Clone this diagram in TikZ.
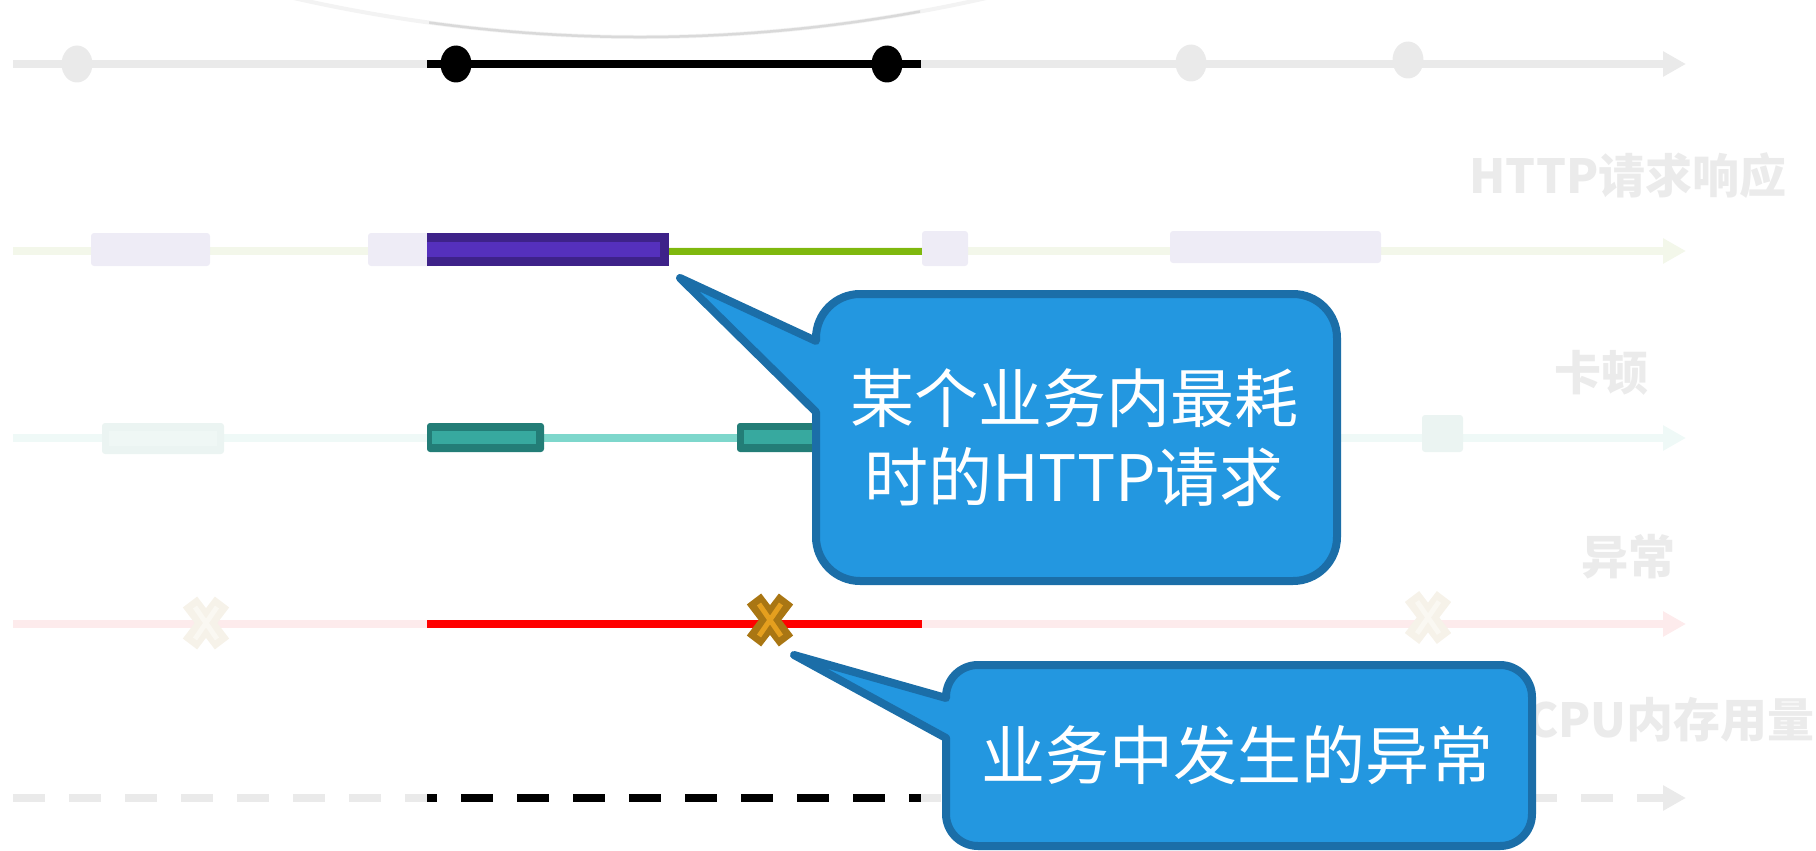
\documentclass[tikz,border=0pt]{standalone}
\usepackage{fontspec}
\setmainfont{Noto Sans CJK SC}
\usetikzlibrary{arrows.meta}
\definecolor{cGray}{HTML}{EAEAEA}
\definecolor{cArc}{HTML}{D9D9D9}
\definecolor{cArcFaint}{HTML}{F3F3F3}
\definecolor{cGreenLt}{HTML}{F3F7EA}
\definecolor{cLav}{HTML}{EEECF6}
\definecolor{cPurD}{HTML}{3E2289}
\definecolor{cPurL}{HTML}{5530BC}
\definecolor{cGreen}{HTML}{7FB80E}
\definecolor{cTealLt}{HTML}{EFF9F7}
\definecolor{cTealFade}{HTML}{EBF4F2}
\definecolor{cTealFade2}{HTML}{EFF7F5}
\definecolor{cTealD}{HTML}{237D77}
\definecolor{cTealM}{HTML}{37A99F}
\definecolor{cTealLine}{HTML}{7ED7CC}
\definecolor{cPink}{HTML}{FDEBEC}
\definecolor{cRed}{HTML}{FF0000}
\definecolor{cXo}{HTML}{A97613}
\definecolor{cXi}{HTML}{E59F1E}
\definecolor{cXfo}{HTML}{F6F2E9}
\definecolor{cXfi}{HTML}{FAF8F2}
\definecolor{cLabel}{HTML}{EBEBEB}
\definecolor{cCallFill}{HTML}{2397E0}
\definecolor{cCallDraw}{HTML}{1B6EA8}
\newcommand\XMark[4]{%
  \draw[line width=18pt,#3] (#1-16,#2-21) -- (#1+16,#2+21);
  \draw[line width=18pt,#3] (#1+16,#2-21) -- (#1-16,#2+21);
  \draw[line width=5pt,#4] (#1-11,#2-16) -- (#1+11,#2+16);
  \draw[line width=5pt,#4] (#1+11,#2-16) -- (#1-11,#2+16);
}
\begin{document}
\begin{tikzpicture}[x=1pt,y=-1pt,
  track/.style={line width=8pt,-{Triangle[length=23pt,width=24pt]}},
  seg/.style={line width=8pt},
  lbl/.style={font=\bfseries\fontsize{47}{47}\selectfont,text=cLabel,inner sep=0pt},
  callout/.style={fill=cCallFill,draw=cCallDraw,line width=8pt,line join=round},
  ctext/.style={font=\fontsize{64}{79}\selectfont,text=white,align=center,inner sep=0pt}]
\useasboundingbox (0,0) rectangle (1816,851);
\clip (0,0) rectangle (1816,851);
% faint arc at the top
\draw[cArcFaint,line width=4pt] (290,-2.8) .. controls (540,54.1) and (790,50) .. (1040,-15);
\begin{scope}
  \clip (429,-20) rectangle (920,60);
  \draw[cArc,line width=2.5pt] (290,-2.8) .. controls (540,54.1) and (790,50) .. (1040,-15);
\end{scope}
% row 1
\coordinate (r1s) at (13,64); \coordinate (r1e) at (1686,64);
\draw[track,cGray] (r1s) -- (r1e);
\draw[seg,black] (427,64) -- (921,64);
\fill[cGray] (77,64) ellipse [x radius=15.5,y radius=18.5];
\fill[cGray] (1191,63) ellipse [x radius=15.5,y radius=18.5];
\fill[cGray] (1408,60) ellipse [x radius=15.5,y radius=18.5];
\fill[black] (456,64) ellipse [x radius=15.5,y radius=18.5];
\fill[black] (887,64) ellipse [x radius=15.5,y radius=18.5];
% row 2
\coordinate (r2s) at (13,251); \coordinate (r2e) at (1686,251);
\draw[track,cGreenLt] (r2s) -- (r2e);
\fill[cLav,rounded corners=3pt] (91,233) rectangle (210,266);
\fill[cLav,rounded corners=3pt] (368,233) rectangle (440,266);
\fill[cLav,rounded corners=3pt] (922,231) rectangle (968,266);
\fill[cLav,rounded corners=3pt] (1170,231) rectangle (1381,263);
\fill[cPurD] (427,233) rectangle (669,266);
\fill[cPurL] (427,242) rectangle (660,257);
\draw[line width=7pt,cGreen] (669,251) -- (922,251);
% row 3
\coordinate (r3s) at (13,438); \coordinate (r3e) at (1686,438);
\draw[track,cTealLt] (r3s) -- (r3e);
\fill[cTealFade,rounded corners=3pt] (102,423) rectangle (224,454);
\fill[cTealFade2] (109,431) rectangle (217,446);
\fill[cTealFade,rounded corners=3pt] (1422,415) rectangle (1463,452);
\draw[seg,cTealLine] (544,438) -- (737,438);
\fill[cTealD,rounded corners=3pt] (427,423) rectangle (544,452);
\fill[cTealM] (432,431) rectangle (536,444);
\fill[cTealD,rounded corners=3pt] (737,423) rectangle (830,452);
\fill[cTealM] (744,430) rectangle (830,444);
% row 4
\coordinate (r4s) at (13,624); \coordinate (r4e) at (1686,624);
\draw[track,cPink] (r4s) -- (r4e);
\draw[seg,cRed] (427,624) -- (922,624);
\XMark{206}{623}{cXfo}{cXfi}
\XMark{1428}{617.5}{cXfo}{cXfi}
\XMark{770}{620}{cXo}{cXi}
% row 5
\coordinate (r5s) at (13,798); \coordinate (r5e) at (1686,798);
\draw[track,cGray,dash pattern=on 32pt off 24pt] (r5s) -- (r5e);
\begin{scope}
  \clip (427,780) rectangle (921,816);
  \draw[seg,black,dash pattern=on 32pt off 24pt] (r5s) -- (921,798);
\end{scope}
% labels
\node[lbl] (lHttp) at (1628,176) {HTTP请求响应};
\node[lbl] (lKd) at (1601,373) {卡顿};
\node[lbl] (lYc) at (1628,557) {异常};
\node[lbl] (lCpu) at (1671,720) {CPU内存用量};
% callout 1
\coordinate (tip1) at (680,278);
\draw[callout] (816,412) -- (tip1) -- (816,341) -- (816,338)
  arc[start angle=180,end angle=270,radius=44] -- (1293,294)
  arc[start angle=270,end angle=360,radius=44] -- (1337,537)
  arc[start angle=0,end angle=90,radius=44] -- (860,581)
  arc[start angle=90,end angle=180,radius=44] -- cycle;
\node[ctext] (t1) at (1074,438) {某个业务内最耗\\时的HTTP请求};
% callout 2
\coordinate (tip2) at (794,655);
\draw[callout] (946,738) -- (tip2) -- (946,698) -- (946,697)
  arc[start angle=180,end angle=270,radius=32] -- (1500,665)
  arc[start angle=270,end angle=360,radius=32] -- (1532,814)
  arc[start angle=0,end angle=90,radius=32] -- (978,846)
  arc[start angle=90,end angle=180,radius=32] -- cycle;
\node[ctext] (t2) at (1237,755) {业务中发生的异常};
\end{tikzpicture}
\end{document}
